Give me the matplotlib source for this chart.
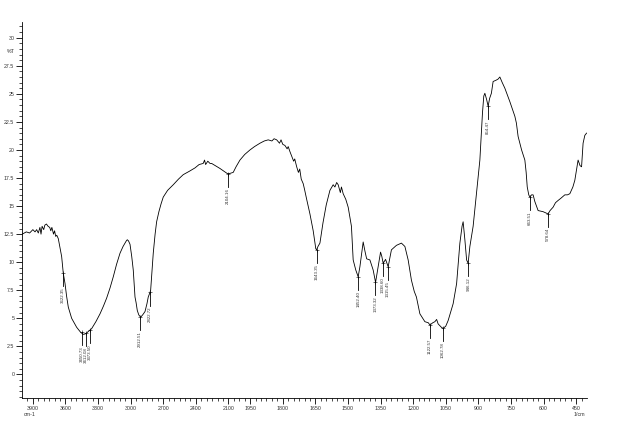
import numpy as np
import matplotlib
matplotlib.use("Agg")
import matplotlib.pyplot as plt

# ---- data ----
wavenumber = [3998, 3960, 3930, 3900, 3880, 3865, 3850, 3835, 3825, 3815, 3800, 3790, 3775, 3760,
              3745, 3735, 3725, 3710, 3700, 3690, 3680, 3666, 3650, 3635, 3620, 3604, 3590, 3574,
              3543, 3497, 3460, 3436, 3420, 3405, 3380, 3359, 3320, 3282, 3250, 3221, 3190, 3160,
              3130, 3098, 3070, 3052, 3040, 3031, 3020, 3006, 2990, 2976, 2960, 2950, 2939, 2925,
              2908, 2890, 2868, 2850, 2838, 2822, 2816, 2805, 2792, 2775, 2761, 2740, 2720, 2700,
              2660, 2608, 2560, 2516, 2460, 2408, 2370, 2332, 2320, 2310, 2290, 2270, 2255, 2220,
              2178, 2140, 2111, 2090, 2056, 2030, 1997, 1975, 1951, 1930, 1905, 1885, 1867, 1850,
              1840, 1828, 1815, 1808, 1800, 1790, 1780, 1775, 1767, 1760, 1750, 1745, 1736, 1728,
              1722, 1715, 1706, 1700, 1690, 1675, 1660, 1648, 1644, 1638, 1629, 1615, 1600, 1583,
              1568, 1560, 1552, 1545, 1535, 1530, 1522, 1510, 1499, 1484, 1476, 1464, 1453, 1445,
              1430, 1422, 1414, 1399, 1384, 1373, 1361, 1350, 1344, 1338, 1327, 1315, 1300, 1277,
              1254, 1238, 1223, 1208, 1195, 1185, 1169, 1146, 1130, 1123, 1110, 1100, 1092, 1085,
              1070, 1062, 1050, 1039, 1016, 1000, 985, 975, 970, 962, 954, 947, 939, 924, 909, 893,
              881, 875, 870, 862, 855, 848, 840, 832, 820, 810, 801, 790, 778, 755, 732, 725, 717,
              701, 686, 680, 675, 668, 663, 655, 648, 640, 625, 602, 590, 579, 570, 556, 545, 533,
              520, 502, 490, 479, 465, 456, 441, 432, 425, 418, 410, 402]
transmittance = [12.5, 12.7, 12.6, 12.9, 12.7, 12.9, 12.6, 13.1, 12.5, 13.2, 12.9, 13.3, 13.4, 13.2,
                 13.1, 12.8, 13.1, 12.5, 12.8, 12.3, 12.4, 12.1, 11.3, 10.5, 9.0, 8.1, 7.0, 6.0,
                 5.0, 4.2, 3.75, 3.57, 3.6, 3.7, 3.9, 4.08, 4.7, 5.4, 6.1, 6.8, 7.7, 8.7,
                 9.8, 10.8, 11.4, 11.7, 11.9, 12.0, 11.9, 11.6, 10.5, 9.3, 6.9, 6.4, 5.7, 5.3,
                 5.1, 5.3, 5.6, 6.3, 6.9, 7.3, 7.5, 9.0, 10.8, 12.5, 13.6, 14.5, 15.2, 15.8,
                 16.4, 16.9, 17.4, 17.8, 18.1, 18.4, 18.7, 18.8, 19.1, 18.7, 19.0, 18.8, 18.8, 18.6,
                 18.35, 18.1, 17.9, 17.9, 18.0, 18.5, 19.1, 19.6, 20.0, 20.3, 20.6, 20.8, 20.9, 20.8,
                 21.0, 20.9, 20.6, 20.9, 20.5, 20.4, 20.1, 20.3, 19.85, 19.5, 19.0, 19.2, 18.5, 18.0,
                 18.3, 17.4, 17.0, 16.5, 15.6, 14.3, 12.8, 11.2, 11.1, 11.4, 11.7, 13.5, 15.1, 16.4,
                 16.9, 16.7, 17.1, 16.9, 16.2, 16.7, 16.1, 15.6, 14.9, 13.2, 10.2, 9.3, 8.7, 9.6,
                 11.8, 11.0, 10.3, 10.2, 9.3, 8.2, 9.6, 10.9, 10.5, 9.9, 10.25, 9.6, 11.1, 11.5,
                 11.7, 11.4, 10.2, 8.4, 7.4, 6.9, 5.4, 4.7, 4.6, 4.4, 4.6, 4.7, 4.9, 4.5,
                 4.2, 4.1, 4.3, 4.8, 6.3, 8.1, 11.7, 13.2, 13.6, 12.0, 10.2, 9.9, 11.4, 13.2, 16.1, 19.1,
                 23.3, 24.8, 25.05, 24.5, 23.9, 24.6, 25.05, 26.1, 26.2, 26.3, 26.5, 26.0, 25.5, 24.3, 23.0, 22.4, 21.2,
                 20.0, 19.1, 18.0, 16.7, 16.0, 15.8, 16.0, 16.0, 15.4, 14.6, 14.5, 14.4, 14.3, 14.6, 14.9, 15.3, 15.5,
                 15.7, 16.0, 16.0, 16.1, 16.7, 17.3, 19.1, 18.6, 18.5, 20.6, 21.3, 21.5]

peak_wn = [3622.35, 3450.73, 3412.08, 3373.50, 2912.51, 2822.72, 2104.16, 1643.35,
           1452.40, 1373.32, 1338.60, 1315.45, 1122.57, 1062.78, 946.12, 854.47, 663.51, 578.64]
peak_t = [9.0, 3.75, 3.65, 3.95, 5.1, 7.3, 17.9, 11.1,
          8.7, 8.2, 9.9, 9.6, 4.4, 4.1, 9.9, 23.9, 15.8, 14.3]

x_major = [3900, 3600, 3300, 3000, 2700, 2400, 2100, 1950, 1800, 1650,
           1500, 1350, 1200, 1050, 900, 750, 600, 450]
y_major = [0, 2.5, 5, 7.5, 10, 12.5, 15, 17.5, 20, 22.5, 25, 27.5, 30]
y_labels = ["0", "2.5", "5", "7.5", "10", "12.5", "15", "17.5", "20", "22.5", "25", "27.5", "30"]

# ---- plot ----
plt.rcParams['font.family'] = ['Liberation Sans', 'DejaVu Sans']

fig = plt.figure(figsize=(6.28, 4.32), dpi=100)
ax = fig.add_axes([22 / 628, 34 / 432, (587 - 22) / 628, (398 - 22) / 432])


def fwd(x):
    x = np.asarray(x, dtype=float)
    return np.where(x >= 2000, x, 2 * x - 2000)


def inv(t):
    t = np.asarray(t, dtype=float)
    return np.where(t >= 2000, t, (t + 2000) / 2)


ax.set_xscale('function', functions=(fwd, inv))
ax.plot(wavenumber, transmittance, color='black', lw=0.6)
ax.set_xlim(4000, 400)
ax.set_ylim(-2.1, 31.4)

# peak markers and labels
px_unit = 1 / 11.2
for w, t in zip(peak_wn, peak_t):
    ax.plot([w, w], [t, t - 13 * px_unit], color='black', lw=0.6)
    ax.plot([w], [t], marker='+', color='black', ms=3, mew=0.4)
    ax.text(w, t - 14 * px_unit, f"{w:.2f}", rotation=90, ha='center', va='top',
            fontsize=3.2, color='#333333')

for s in ['top', 'right']:
    ax.spines[s].set_visible(False)
for s in ['left', 'bottom']:
    ax.spines[s].set_linewidth(0.6)

ax.set_xticks(x_major)
ax.set_xticklabels([str(v) for v in x_major])
minor_x = [v for v in range(3950, 2000, -50) if v not in x_major] + \
          [v for v in range(2000, 400, -25) if v not in x_major]
ax.set_xticks(minor_x, minor=True)
ax.set_yticks(y_major)
ax.set_yticklabels(y_labels)
ax.set_yticks(np.arange(-2.0, 31.01, 0.5), minor=True)

ax.tick_params(axis='both', which='major', labelsize=3.8, labelcolor='#333333',
               length=4, width=0.6, pad=1.5)
ax.tick_params(axis='both', which='minor', length=2, width=0.5)

# axis unit labels
ax.text(-0.012, 28.75, "%T", transform=ax.get_yaxis_transform(), ha='right', va='center',
        fontsize=3.8, color='#333333')
fig.text(30 / 628, 1 - 415 / 432, "cm-1", ha='center', va='center', fontsize=3.8, color='#333333')
fig.text(579 / 628, 1 - 415 / 432, "1/cm", ha='center', va='center', fontsize=3.8, color='#333333')

fig.savefig("out.png", dpi=100)
